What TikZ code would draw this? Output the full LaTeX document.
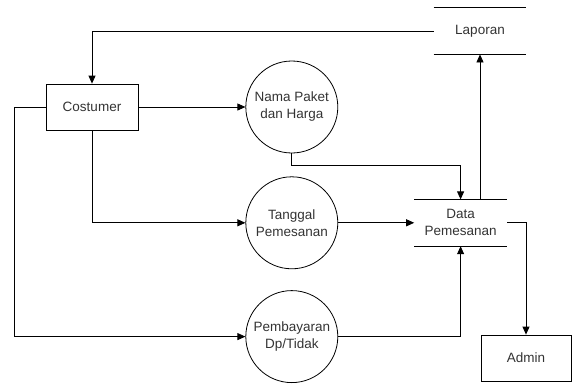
\documentclass[tikz,border=0pt]{standalone}
\usepackage{fontspec}
\setmainfont{Liberation Sans}
\usepackage{tikz}
\usetikzlibrary{positioning,arrows.meta}

\tikzset{
  entity/.style={draw, rectangle, minimum width=92pt, minimum height=46pt, inner sep=0pt},
  process/.style={draw, circle, minimum size=92pt, inner sep=0pt, align=center},
  store/.style={rectangle, minimum width=92pt, minimum height=46pt, inner sep=0pt, align=center},
  flow/.style={-{Triangle[length=8pt,width=7pt]}},
}

\begin{document}
\begin{tikzpicture}[x=1pt, y=-1pt, line width=0.8pt,
    font=\fontsize{13.5}{17}\selectfont, text=black!80]

  \useasboundingbox (0,0) rectangle (573,383);

  % Define nodes
  \node[entity]                          (cust)  at (92,107)  {Costumer};
  \node[process, right=107pt of cust]    (nama)  {Nama Paket\\dan Harga};
  \node[process, below=23pt of nama]     (tgl)   {Tanggal\\Pemesanan};
  \node[process, below=21pt of tgl]      (bayar) {Pembayaran\\Dp/Tidak};
  \node[store, right=76pt of tgl]        (data)  {Data\\Pemesanan};
  \node[store]                           (lap)   at (480,31)  {Laporan};
  \node[entity, minimum width=90pt]      (admin) at (526,358) {Admin};

  % Data stores
  \draw (data.north west) -- (data.north east);
  \draw (data.south west) -- (data.south east);
  \draw (lap.north west) -- (lap.north east);
  \draw (lap.south west) -- (lap.south east);

  % Flows
  \draw[flow] (cust.east) -- (nama.west);
  \draw[flow] (cust.south) |- (tgl.west);
  \draw[flow] (cust.west) -- ++(-31,0) |- (bayar.west);
  \draw[flow] (nama.south) -- ++(0,12) -| (data.north);
  \draw[flow] (tgl.east) -- (data.west);
  \draw[flow] (bayar.east) -| (data.south);
  \draw[flow] (lap.south |- data.north) -- (lap.south);
  \draw[flow] (lap.west) -| (cust.north);
  \draw[flow] (data.east) -| (admin.north);

\end{tikzpicture}
\end{document}
